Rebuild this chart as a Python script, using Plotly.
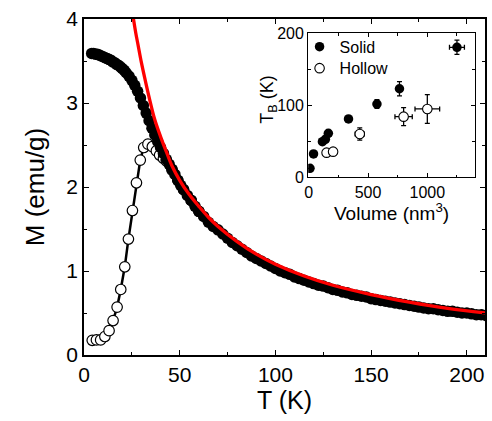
import plotly.graph_objects as go

# ---------------- main panel data ----------------
solid_T = [4, 5, 6, 7, 8, 9, 10, 11, 12, 13, 14, 15, 16, 17, 18, 19, 20, 21, 22,
           23.5, 25, 26.5, 28, 29.5, 31, 32.5, 34, 35.5, 37, 38.5, 40, 41.5, 43,
           44.5, 46, 47.5, 49, 50.5, 52, 54, 56, 58, 60, 62.5, 65, 67.5,
           70, 72.5, 75, 77.5, 80, 82.5, 85, 87.5, 90, 92.5, 95, 97.5, 100,
           102.5, 105, 107.5, 110, 112.5, 115, 117.5, 120, 122.5, 125, 127.5,
           130, 132.5, 135, 137.5, 140, 142.5, 145, 147.5, 150, 152.5, 155,
           157.5, 160, 162.5, 165, 167.5, 170, 172.5, 175, 177.5, 180, 182.5,
           185, 187.5, 190, 192.5, 195, 197.5, 200, 202.5, 205, 207.5, 210]
solid_M = [3.59, 3.59, 3.58, 3.58, 3.57, 3.56, 3.55, 3.54, 3.53, 3.52, 3.51, 3.49,
           3.48, 3.46, 3.45, 3.43, 3.41, 3.39, 3.36,
           3.32, 3.27, 3.21, 3.14, 3.06, 2.97, 2.88, 2.79, 2.70, 2.62, 2.54, 2.47,
           2.40, 2.33, 2.27, 2.21, 2.15, 2.08, 2.02, 1.97, 1.90, 1.84, 1.77, 1.71,
           1.65, 1.58, 1.53,
           1.49, 1.44, 1.39, 1.34, 1.30, 1.26, 1.22, 1.18, 1.15, 1.12, 1.09, 1.06,
           1.03, 1.00, 0.98, 0.96, 0.93, 0.91, 0.89, 0.87, 0.85, 0.83, 0.82, 0.80,
           0.78, 0.77, 0.75, 0.74, 0.72, 0.71, 0.70, 0.69, 0.67, 0.66, 0.65, 0.64,
           0.63, 0.62, 0.61, 0.60, 0.59, 0.58, 0.57, 0.56, 0.55, 0.55, 0.54, 0.53,
           0.52, 0.52, 0.51, 0.50, 0.50, 0.49, 0.48, 0.48, 0.47]

hollow_T = [4.3, 6.5, 8.7, 10.9, 13.1, 15.2, 17.3, 19.2, 21.3, 23.2, 25.3, 27.4,
            29.4, 31.2, 33.4, 35.7, 37.8, 39.5, 41.5, 43, 46, 49, 52, 56, 60]
hollow_M = [0.175, 0.18, 0.18, 0.22, 0.29, 0.41, 0.57, 0.78, 1.05, 1.38, 1.72, 2.05,
            2.32, 2.47, 2.51, 2.48, 2.43, 2.38, 2.34, 2.31, 2.20, 2.08, 1.97, 1.84, 1.71]

fit_T = [25.5, 27, 28, 30, 32, 34, 37, 40, 43, 46, 50, 55, 60, 65, 70, 80, 90,
         100, 115, 130, 150, 170, 190, 210]
fit_M = [4.05, 3.84, 3.72, 3.48, 3.27, 3.07, 2.80, 2.60, 2.42, 2.25, 2.08, 1.91,
         1.77, 1.64, 1.53, 1.35, 1.20, 1.08, 0.94, 0.83, 0.72, 0.63, 0.555, 0.50]

# ---------------- inset data ----------------
ins_solid_V = [10, 40, 115, 140, 165, 335, 575, 765, 1250]
ins_solid_TB = [12.5, 32.4, 49.4, 52.8, 61.1, 81, 101.8, 123, 180.6]
ins_solid_Verr = [0, 0, 0, 0, 0, 0, 0, 15, 63]
ins_solid_TBerr = [0, 0, 0, 0, 0, 0, 6, 10, 10]

ins_hollow_V = [150, 205, 430, 800, 1000]
ins_hollow_TB = [34.2, 35.6, 60.1, 84.2, 94.9]
ins_hollow_Verr = [0, 0, 39, 73, 104]
ins_hollow_TBerr = [0, 0, 8.5, 12.5, 20]

FONT = "Liberation Sans, Arial, sans-serif"

fig = go.Figure()

fig.add_trace(go.Scatter(
    x=hollow_T, y=hollow_M, mode="lines+markers", showlegend=False,
    line=dict(color="black", width=2.5),
    marker=dict(size=10.5, color="white", line=dict(color="black", width=1.2)),
    xaxis="x", yaxis="y"))
fig.add_trace(go.Scatter(
    x=solid_T, y=solid_M, mode="markers", showlegend=False,
    marker=dict(size=11.5, color="black", line=dict(width=0)),
    xaxis="x", yaxis="y"))
fig.add_trace(go.Scatter(
    x=fit_T, y=fit_M, mode="lines", showlegend=False,
    line=dict(color="red", width=3.3, shape="spline"),
    xaxis="x", yaxis="y"))

# inset
fig.add_trace(go.Scatter(
    x=ins_solid_V, y=ins_solid_TB, mode="markers", name="Solid", legend="legend",
    marker=dict(size=9.5, color="black", line=dict(width=0)),
    error_x=dict(type="data", array=ins_solid_Verr, color="black", thickness=1.3, width=2.5),
    error_y=dict(type="data", array=ins_solid_TBerr, color="black", thickness=1.3, width=2.5),
    xaxis="x2", yaxis="y2"))
fig.add_trace(go.Scatter(
    x=ins_hollow_V, y=ins_hollow_TB, mode="markers", name="Hollow", legend="legend2",
    marker=dict(size=9.5, color="white", line=dict(color="black", width=1.1)),
    error_x=dict(type="data", array=ins_hollow_Verr, color="black", thickness=1.3, width=2.5),
    error_y=dict(type="data", array=ins_hollow_TBerr, color="black", thickness=1.3, width=2.5),
    xaxis="x2", yaxis="y2"))

ax_common = dict(showgrid=False, zeroline=False, showline=True, linecolor="black",
                 mirror="allticks", ticks="inside", tickcolor="black")

ins_x0, ins_x1 = 0.5591, 0.9744
ins_y0, ins_y1 = 0.5289, 0.9574

leg_common = dict(x=0.5376, xanchor="left", yanchor="top",
                  bgcolor="rgba(0,0,0,0)", borderwidth=0,
                  font=dict(size=16), itemsizing="trace")

fig.update_layout(
    width=492, height=421,
    margin=dict(l=84, r=5, t=19, b=66),
    paper_bgcolor="white", plot_bgcolor="white",
    font=dict(family=FONT, color="black"),
    xaxis=dict(**ax_common, domain=[0, 1], range=[0, 209.5], dtick=50, tick0=0,
               linewidth=1.5, ticklen=5, tickwidth=1.3,
               minor=dict(dtick=25, ticks="inside", ticklen=3, tickcolor="black", tickwidth=1.2),
               tickfont=dict(size=21),
               title=dict(text="T (K)", font=dict(size=25), standoff=6)),
    yaxis=dict(**ax_common, domain=[0, 1], range=[0, 4], dtick=1, tick0=0,
               linewidth=1.5, ticklen=5, tickwidth=1.3,
               minor=dict(dtick=0.5, ticks="inside", ticklen=3, tickcolor="black", tickwidth=1.2),
               tickfont=dict(size=21),
               title=dict(text="M (emu/g)", font=dict(size=26), standoff=14)),
    xaxis2=dict(**ax_common, domain=[ins_x0, ins_x1], anchor="y2", range=[-5, 1400],
                dtick=500, tick0=0, linewidth=1.2, ticklen=4, tickwidth=1.1,
                minor=dict(dtick=250, ticks="inside", ticklen=2.5, tickcolor="black", tickwidth=1),
                tickfont=dict(size=16), ticklabelstandoff=0),
    yaxis2=dict(**ax_common, domain=[ins_y0, ins_y1], anchor="x2", range=[0, 200],
                dtick=100, tick0=0, linewidth=1.2, ticklen=4, tickwidth=1.1,
                minor=dict(dtick=50, ticks="inside", ticklen=2.5, tickcolor="black", tickwidth=1),
                tickfont=dict(size=16), ticklabelstandoff=0),
    legend=dict(**leg_common, y=0.968),
    legend2=dict(**leg_common, y=0.904),
    annotations=[
        dict(text="T<sub>B</sub> (K)", xref="paper", yref="paper",
             x=0.4615, y=0.76, showarrow=False, textangle=-90,
             font=dict(size=18), xanchor="center", yanchor="middle"),
        dict(text="Volume (nm<sup>3</sup>)", xref="paper", yref="paper",
             x=(ins_x0 + ins_x1) / 2, y=0.425, showarrow=False,
             font=dict(size=19), xanchor="center", yanchor="middle"),
    ],
)

fig.write_html("out.html", config={"displayModeBar": False},
               post_script="document.body.style.margin='0px';")
